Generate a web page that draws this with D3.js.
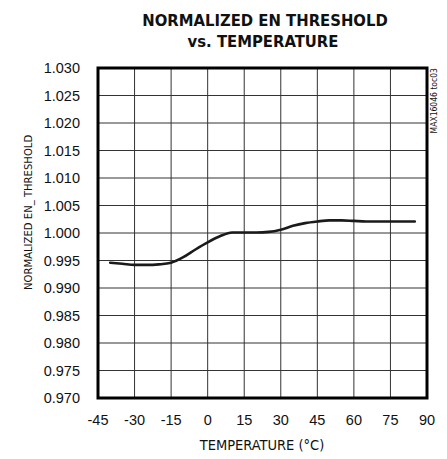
<!DOCTYPE html>
<html>
  <head>
    <meta charset="utf-8">
    <title></title>
    <script src="https://cdnjs.cloudflare.com/ajax/libs/d3/7.8.5/d3.min.js"></script>
    <style>
      html, body { margin: 0; padding: 0; background: #fff; overflow: hidden; }
      svg { display: block; }
      text { font-family: "Liberation Sans", Arial, sans-serif; fill: #111; }
      .narrow { font-family: "DejaVu Sans Condensed", "DejaVu Sans", sans-serif; font-stretch: condensed; }
    </style>
  </head>
  <body>
    <script type="text/javascript">

    // values
    let temps = [-40, -35, -30, -25, -20, -15, -10, -5, 0, 5, 10, 15, 20, 25, 30, 35, 40, 45, 50, 55, 60, 65, 70, 75, 80, 85]
    let thresh = [0.9946, 0.9944, 0.9942, 0.9942, 0.9943, 0.9946, 0.9956, 0.9970, 0.9983, 0.9994, 1.0001, 1.0001, 1.0001, 1.0002,
                  1.0006, 1.0013, 1.0018, 1.0021, 1.0023, 1.0023, 1.0022, 1.0021, 1.0021, 1.0021, 1.0021, 1.0021]
    let xTicks = [-45, -30, -15, 0, 15, 30, 45, 60, 75, 90]
    let yTicks = [0.970, 0.975, 0.980, 0.985, 0.990, 0.995, 1.000, 1.005, 1.010, 1.015, 1.020, 1.025, 1.030]

    let outerWidth = 447;
    let outerHeight = 459;
    let margin = { left: 98, top: 68, right: 20, bottom: 61 }

    let svg = d3.select("body").append("svg")
      .attr("width", outerWidth)
      .attr("height", outerHeight)

    let x0 = margin.left, x1 = outerWidth - margin.right;
    let y0 = margin.top, y1 = outerHeight - margin.bottom;

    let xScale = d3.scaleLinear().domain([-45, 90]).range([x0, x1]);
    let yScale = d3.scaleLinear().domain([0.970, 1.030]).range([y1, y0]);

    // grid
    svg.append("g").selectAll("line").data(xTicks.slice(1, -1)).enter().append("line")
      .attr("x1", d => xScale(d)).attr("x2", d => xScale(d))
      .attr("y1", y0).attr("y2", y1)
      .attr("stroke", "#333").attr("stroke-width", 1);
    svg.append("g").selectAll("line").data(yTicks.slice(1, -1)).enter().append("line")
      .attr("y1", d => yScale(d)).attr("y2", d => yScale(d))
      .attr("x1", x0).attr("x2", x1)
      .attr("stroke", "#333").attr("stroke-width", 1);

    // curve
    let line = d3.line()
      .x(d => xScale(d[0]))
      .y(d => yScale(d[1]))
      .curve(d3.curveMonotoneX);
    svg.append("path")
      .attr("d", line(temps.map((t, i) => [t, thresh[i]])))
      .attr("fill", "none")
      .attr("stroke", "#1a1a1a")
      .attr("stroke-width", 2.6)
      .attr("stroke-linecap", "round");

    // frame
    svg.append("rect")
      .attr("x", x0).attr("y", y0)
      .attr("width", x1 - x0).attr("height", y1 - y0)
      .attr("fill", "none").attr("stroke", "#000").attr("stroke-width", 3);

    // tick labels
    svg.append("g").selectAll("text").data(xTicks).enter().append("text")
      .attr("x", d => xScale(d)).attr("y", y1 + 27)
      .attr("text-anchor", "middle").attr("font-size", 14.5)
      .text(d => d);
    svg.append("g").selectAll("text").data(yTicks).enter().append("text")
      .attr("x", x0 - 18).attr("y", d => yScale(d) + 5)
      .attr("text-anchor", "end").attr("font-size", 14.5)
      .text(d => d3.format(".3f")(d));

    // titles
    svg.append("text").attr("class", "narrow")
      .attr("x", 265).attr("y", 26).attr("text-anchor", "middle")
      .attr("font-size", 16.5).attr("font-weight", "bold")
      .text("NORMALIZED EN THRESHOLD");
    svg.append("text").attr("class", "narrow")
      .attr("x", 263).attr("y", 47).attr("text-anchor", "middle")
      .attr("font-size", 16.5).attr("font-weight", "bold")
      .text("vs. TEMPERATURE");

    svg.append("text").attr("class", "narrow")
      .attr("x", 262).attr("y", 450).attr("text-anchor", "middle")
      .attr("font-size", 14.5)
      .text("TEMPERATURE (°C)");

    svg.append("text").attr("class", "narrow")
      .attr("x", 32).attr("y", 290)
      .attr("transform", "rotate(-90,32,290)")
      .attr("text-anchor", "start").attr("font-size", 11.2)
      .text("NORMALIZED EN_ THRESHOLD");

    svg.append("text").attr("class", "narrow")
      .attr("x", 437).attr("y", 68)
      .attr("transform", "rotate(-90,437,68)")
      .attr("text-anchor", "end").attr("font-size", 8.5)
      .text("MAX16046 toc03");

    </script>
  </body>
</html>
